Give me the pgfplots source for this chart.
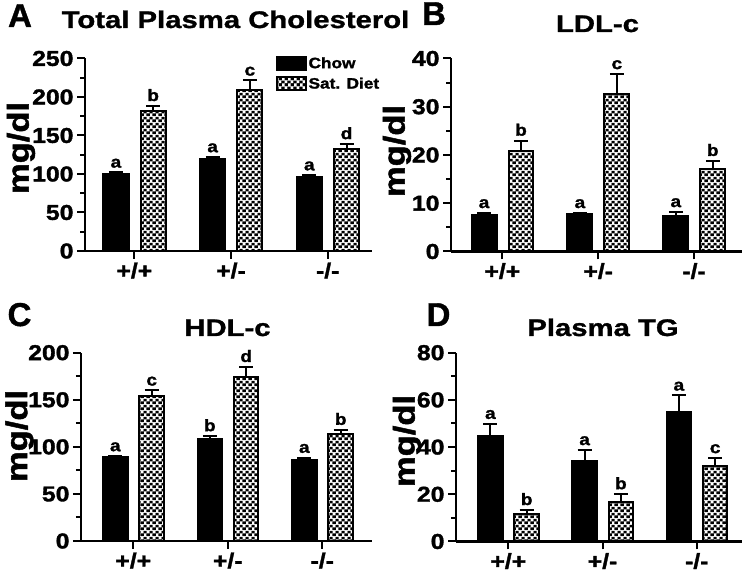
\documentclass[border=0pt]{standalone}
\usepackage{pgfplots}
\pgfplotsset{compat=1.18}
\usepackage{fontspec}
\setmainfont{Liberation Sans}[FakeStretch=1.15, BoldFeatures={FakeBold=1.6}]
\newfontfamily\titlefont{Liberation Sans}[FakeStretch=1.22, BoldFeatures={FakeBold=1.2}]
\newfontfamily\letterfont{Liberation Sans}[BoldFeatures={FakeBold=1.2}]
\usetikzlibrary{patterns.meta}
\pgfdeclarepattern{
  name=checks,
  type=colored,
  bottom left={\pgfpoint{0pt}{0pt}},
  top right={\pgfpoint{6pt}{6pt}},
  tile size={\pgfpoint{6pt}{6pt}},
  code={
    \pgfsetfillcolor{black}
    \pgfpathrectangle{\pgfpoint{0pt}{0pt}}{\pgfpoint{6pt}{6pt}}
    \pgfusepath{fill}
    \pgfsetfillcolor{white}
    \pgfpathrectangle{\pgfpoint{0.1pt}{0.1pt}}{\pgfpoint{2.8pt}{2.8pt}}
    \pgfpathrectangle{\pgfpoint{3.1pt}{3.1pt}}{\pgfpoint{2.8pt}{2.8pt}}
    \pgfusepath{fill}
  }
}
\newcommand{\lab}[3]{\node[anchor=south, inner sep=0pt, yshift=4.5pt, font=\bfseries\fontsize{16.5}{16.5}\selectfont] at (axis cs:#1,#2) {#3};}
\pgfplotsset{
  panel/.style={
    scale only axis,
    axis lines*=left,
    axis line style={line width=2.5pt, black},
    ybar, bar shift=0pt, bar width=0.26,
    ymin=0, enlargelimits=false,
    xtick={0,1,2}, xticklabels={+/+,+/-,-/-},
    minor y tick num=1,
    tick align=outside,
    major tick length=8pt, minor tick length=5pt,
    tick style={line width=2pt, black},
    tick label style={font=\bfseries\fontsize{21.5}{21.5}\selectfont},
    /pgf/number format/assume math mode=true,
    clip=false,
  },
  eb/.style={error bars/.cd, y dir=plus, y explicit,
    error mark options={rotate=90, mark size=7pt, line width=2pt, black},
    error bar style={line width=2pt, black}},
  chow/.style={fill=black, draw=black, line width=2pt, eb},
  sat/.style={fill=gray, pattern=checks, draw=black, line width=2pt, eb},
}
\begin{document}
\begin{tikzpicture}[x=1pt,y=1pt]
\useasboundingbox (0,0) rectangle (748,572);
% Panel A
\begin{axis}[panel, at={(85pt,321pt)}, anchor=south west, width=287pt, height=192.5pt,
  xmin=-0.51, xmax=2.458, ymax=250, ytick distance=50,
  legend style={draw=none, fill=none, at={(0.665,1.015)}, anchor=north west,
    font=\bfseries\fontsize{15}{15}\selectfont, row sep=5pt, inner sep=0pt,
    nodes={inner sep=1.5pt}},
  legend cell align=left,
  legend image code/.code={\draw[#1] (0pt,-6.5pt) rectangle (29pt,6.5pt);}]
\addplot[chow] coordinates {(-0.19,99.5) +- (0,2.5) (0.81,119) +- (0,3) (1.81,95.5) +- (0,3)};
\addplot[sat] coordinates {(0.195,182) +- (0,6.5) (1.195,209) +- (0,12.5) (2.195,132) +- (0,7)};
\legend{Chow, Sat. Diet}
\lab{-0.19}{102}{a}\lab{0.81}{122}{a}\lab{1.81}{98.5}{a}
\lab{0.195}{188.5}{b}\lab{1.195}{221.5}{c}\lab{2.195}{139}{d}
\end{axis}
% Panel B
\begin{axis}[panel, at={(451pt,320.5pt)}, anchor=south west, width=291pt, height=193pt,
  xmin=-0.535, xmax=2.50, ymax=40, ytick distance=10]
\addplot[chow] coordinates {(-0.19,7.6) +- (0,0.4) (0.81,7.7) +- (0,0.3) (1.81,7.4) +- (0,0.8)};
\addplot[sat] coordinates {(0.195,20.8) +- (0,2.2) (1.195,32.6) +- (0,4.2) (2.195,17.2) +- (0,1.6)};
\lab{-0.19}{8.0}{a}\lab{0.81}{8.0}{a}\lab{1.81}{8.2}{a}
\lab{0.195}{23.0}{b}\lab{1.195}{36.8}{c}\lab{2.195}{18.8}{b}
\end{axis}
% Panel C
\begin{axis}[panel, at={(81pt,31pt)}, anchor=south west, width=291pt, height=188.3pt,
  xmin=-0.553, xmax=2.526, ymax=200, ytick distance=50]
\addplot[chow] coordinates {(-0.19,89) +- (0,1.2) (0.81,108.5) +- (0,3) (1.81,85.5) +- (0,3)};
\addplot[sat] coordinates {(0.195,154.5) +- (0,5.5) (1.195,174.5) +- (0,10.5) (2.195,114) +- (0,4.2)};
\lab{-0.19}{90.2}{a}\lab{0.81}{111.5}{b}\lab{1.81}{88.5}{a}
\lab{0.195}{160}{c}\lab{1.195}{185}{d}\lab{2.195}{118.2}{b}
\end{axis}
% Panel D
\begin{axis}[panel, at={(456pt,30.5pt)}, anchor=south west, width=286pt, height=188.8pt,
  xmin=-0.555, xmax=2.48, ymax=80, ytick distance=20]
\addplot[chow] coordinates {(-0.19,44.8) +- (0,5.1) (0.81,34.1) +- (0,4.7) (1.81,54.8) +- (0,7.1)};
\addplot[sat] coordinates {(0.195,11.6) +- (0,1.8) (1.195,16.7) +- (0,3.4) (2.195,32) +- (0,3.4)};
\lab{-0.19}{49.9}{a}\lab{0.81}{38.8}{a}\lab{1.81}{61.9}{a}
\lab{0.195}{13.4}{b}\lab{1.195}{20.1}{b}\lab{2.195}{35.4}{c}
\end{axis}
% Panel letters
\node[anchor=base, inner sep=0pt, font=\letterfont\bfseries\fontsize{33}{33}\selectfont] at (20,545) {A};
\node[anchor=base, inner sep=0pt, font=\letterfont\bfseries\fontsize{33}{33}\selectfont] at (434,547) {B};
\node[anchor=base, inner sep=0pt, font=\letterfont\bfseries\fontsize{33}{33}\selectfont] at (19.5,246) {C};
\node[anchor=base, inner sep=0pt, font=\letterfont\bfseries\fontsize{33}{33}\selectfont] at (438.5,246) {D};
% Titles
\node[anchor=base, inner sep=0pt, font=\titlefont\bfseries\fontsize{24}{24}\selectfont] at (235.5,544) {Total Plasma Cholesterol};
\node[anchor=base, inner sep=0pt, font=\titlefont\bfseries\fontsize{24}{24}\selectfont] at (597.5,540) {LDL-c};
\node[anchor=base, inner sep=0pt, font=\titlefont\bfseries\fontsize{24}{24}\selectfont] at (227.5,236) {HDL-c};
\node[anchor=base, inner sep=0pt, font=\titlefont\bfseries\fontsize{24}{24}\selectfont] at (603,236) {Plasma TG};
% Y labels
\node[rotate=90, inner sep=0pt, font=\bfseries\fontsize{30}{30}\selectfont] at (21,424) {mg/dl};
\node[rotate=90, inner sep=0pt, font=\bfseries\fontsize{30}{30}\selectfont] at (397,421) {mg/dl};
\node[rotate=90, inner sep=0pt, font=\bfseries\fontsize{30}{30}\selectfont] at (19.5,136) {mg/dl};
\node[rotate=90, inner sep=0pt, font=\bfseries\fontsize{30}{30}\selectfont] at (407,131) {mg/dl};
\end{tikzpicture}
\end{document}
